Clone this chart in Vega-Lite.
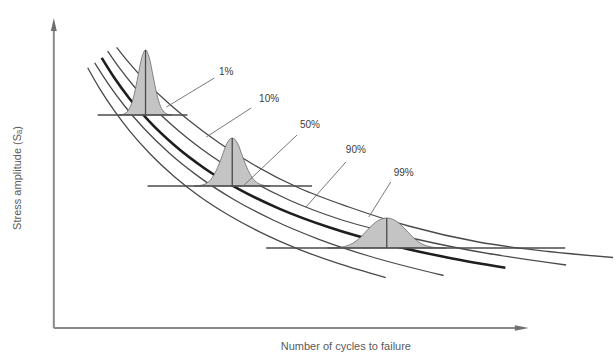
{
  "$schema": "https://vega.github.io/schema/vega-lite/v6.json",
  "width": 616,
  "height": 357,
  "autosize": {"type": "fit", "contains": "padding"},
  "padding": 0,
  "background": "white",
  "config": {"view": {"stroke": null}},
  "datasets": {
    "curves": [
      {"curve": "c1", "x": 88, "y": 67.7}, {"curve": "c1", "x": 100, "y": 88.6}, {"curve": "c1", "x": 115, "y": 111.2}, {"curve": "c1", "x": 130, "y": 130.9}, {"curve": "c1", "x": 150, "y": 153.3}, {"curve": "c1", "x": 175, "y": 176.7}, {"curve": "c1", "x": 200, "y": 196.2}, {"curve": "c1", "x": 230, "y": 215.5}, {"curve": "c1", "x": 260, "y": 231.6}, {"curve": "c1", "x": 300, "y": 249.3}, {"curve": "c1", "x": 340, "y": 263.7}, {"curve": "c1", "x": 387, "y": 277.6},
      {"curve": "c2", "x": 95, "y": 62.9}, {"curve": "c2", "x": 110, "y": 85.9}, {"curve": "c2", "x": 125, "y": 106}, {"curve": "c2", "x": 145, "y": 129}, {"curve": "c2", "x": 170, "y": 153.2}, {"curve": "c2", "x": 200, "y": 177.1}, {"curve": "c2", "x": 235, "y": 199.7}, {"curve": "c2", "x": 275, "y": 220.5}, {"curve": "c2", "x": 320, "y": 239.3}, {"curve": "c2", "x": 370, "y": 256}, {"curve": "c2", "x": 445, "y": 275.5},
      {"curve": "c3", "x": 102, "y": 57.9}, {"curve": "c3", "x": 115, "y": 78.3}, {"curve": "c3", "x": 130, "y": 98.7}, {"curve": "c3", "x": 150, "y": 121.7}, {"curve": "c3", "x": 175, "y": 145.3}, {"curve": "c3", "x": 205, "y": 168.2}, {"curve": "c3", "x": 240, "y": 189.4}, {"curve": "c3", "x": 280, "y": 208.6}, {"curve": "c3", "x": 330, "y": 227.3}, {"curve": "c3", "x": 390, "y": 244.4}, {"curve": "c3", "x": 450, "y": 257.7}, {"curve": "c3", "x": 507, "y": 267.7},
      {"curve": "c4", "x": 108, "y": 51.1}, {"curve": "c4", "x": 120, "y": 68.2}, {"curve": "c4", "x": 135, "y": 87}, {"curve": "c4", "x": 155, "y": 108.7}, {"curve": "c4", "x": 180, "y": 131.4}, {"curve": "c4", "x": 210, "y": 154.5}, {"curve": "c4", "x": 245, "y": 177}, {"curve": "c4", "x": 290, "y": 200}, {"curve": "c4", "x": 340, "y": 219}, {"curve": "c4", "x": 400, "y": 235}, {"curve": "c4", "x": 470, "y": 250}, {"curve": "c4", "x": 568, "y": 265}],
    "curves5": [
      {"curve": "c5", "x": 117, "y": 47.3}, {"curve": "c5", "x": 130, "y": 63.4}, {"curve": "c5", "x": 145, "y": 80.1}, {"curve": "c5", "x": 165, "y": 99.6}, {"curve": "c5", "x": 190, "y": 120.8}, {"curve": "c5", "x": 220, "y": 143}, {"curve": "c5", "x": 255, "y": 165}, {"curve": "c5", "x": 300, "y": 188}, {"curve": "c5", "x": 350, "y": 207}, {"curve": "c5", "x": 410, "y": 226}, {"curve": "c5", "x": 480, "y": 242}, {"curve": "c5", "x": 550, "y": 251.5}, {"curve": "c5", "x": 615, "y": 257.5}
    ],
    "bells": [
      {"bell": "b1", "x": 119.75, "y": 114.9, "base": 115}, {"bell": "b1", "x": 123.5, "y": 114.3, "base": 115}, {"bell": "b1", "x": 127.25, "y": 112.1, "base": 115}, {"bell": "b1", "x": 131, "y": 106.2, "base": 115}, {"bell": "b1", "x": 134.75, "y": 93.9, "base": 115}, {"bell": "b1", "x": 138.5, "y": 75.6, "base": 115}, {"bell": "b1", "x": 142.25, "y": 57.6, "base": 115}, {"bell": "b1", "x": 146, "y": 50, "base": 115}, {"bell": "b1", "x": 149.75, "y": 57.6, "base": 115}, {"bell": "b1", "x": 153.5, "y": 75.6, "base": 115}, {"bell": "b1", "x": 157.25, "y": 93.9, "base": 115}, {"bell": "b1", "x": 161, "y": 106.2, "base": 115}, {"bell": "b1", "x": 164.75, "y": 112.1, "base": 115}, {"bell": "b1", "x": 168.5, "y": 114.3, "base": 115}, {"bell": "b1", "x": 172.25, "y": 114.9, "base": 115},
      {"bell": "b2", "x": 195, "y": 186, "base": 186}, {"bell": "b2", "x": 200.5, "y": 185.5, "base": 186}, {"bell": "b2", "x": 206, "y": 183.9, "base": 186}, {"bell": "b2", "x": 211.5, "y": 179.5, "base": 186}, {"bell": "b2", "x": 217, "y": 170.4, "base": 186}, {"bell": "b2", "x": 222.5, "y": 156.9, "base": 186}, {"bell": "b2", "x": 227.5, "y": 143.6, "base": 186}, {"bell": "b2", "x": 233, "y": 138, "base": 186}, {"bell": "b2", "x": 238.5, "y": 143.6, "base": 186}, {"bell": "b2", "x": 243.5, "y": 156.9, "base": 186}, {"bell": "b2", "x": 249, "y": 170.4, "base": 186}, {"bell": "b2", "x": 254.5, "y": 179.5, "base": 186}, {"bell": "b2", "x": 260, "y": 183.9, "base": 186}, {"bell": "b2", "x": 265.5, "y": 185.5, "base": 186}, {"bell": "b2", "x": 271, "y": 186, "base": 186},
      {"bell": "b3", "x": 328.5, "y": 248, "base": 248}, {"bell": "b3", "x": 337, "y": 247.7, "base": 248}, {"bell": "b3", "x": 345.5, "y": 246.5, "base": 248}, {"bell": "b3", "x": 354, "y": 243.2, "base": 248}, {"bell": "b3", "x": 362.5, "y": 236.5, "base": 248}, {"bell": "b3", "x": 371, "y": 227.5, "base": 248}, {"bell": "b3", "x": 379.5, "y": 220.5, "base": 248}, {"bell": "b3", "x": 388, "y": 218, "base": 248}, {"bell": "b3", "x": 396.5, "y": 220.5, "base": 248}, {"bell": "b3", "x": 405, "y": 227.5, "base": 248}, {"bell": "b3", "x": 413.5, "y": 236.5, "base": 248}, {"bell": "b3", "x": 422, "y": 243.2, "base": 248}, {"bell": "b3", "x": 430.5, "y": 246.5, "base": 248}, {"bell": "b3", "x": 439, "y": 247.7, "base": 248}, {"bell": "b3", "x": 447.5, "y": 248, "base": 248}
    ],
    "segs": [
      {"kind": "base", "x": 98, "y": 115, "x2": 188, "y2": 115},
      {"kind": "base", "x": 148, "y": 186, "x2": 313, "y2": 186},
      {"kind": "base", "x": 267, "y": 248, "x2": 567, "y2": 248},
      {"kind": "center", "x": 146, "y": 115, "x2": 146, "y2": 50},
      {"kind": "center", "x": 233, "y": 186, "x2": 233, "y2": 138},
      {"kind": "center", "x": 388, "y": 248, "x2": 388, "y2": 218},
      {"kind": "leader", "x": 215, "y": 78, "x2": 167, "y2": 107},
      {"kind": "leader", "x": 252, "y": 108, "x2": 207, "y2": 137},
      {"kind": "leader", "x": 298, "y": 135, "x2": 245, "y2": 185},
      {"kind": "leader", "x": 347, "y": 162, "x2": 307, "y2": 207},
      {"kind": "leader", "x": 392, "y": 182, "x2": 370, "y2": 217},
      {"kind": "axis", "x": 54, "y": 328, "x2": 54, "y2": 26},
      {"kind": "axis", "x": 54, "y": 328, "x2": 522, "y2": 328}
    ],
    "labels": [
      {"label": "1%", "x": 227, "y": 72},
      {"label": "10%", "x": 270, "y": 99},
      {"label": "50%", "x": 311, "y": 125},
      {"label": "90%", "x": 357, "y": 150},
      {"label": "99%", "x": 405, "y": 173}
    ],
    "arrows": [
      {"dir": "up", "x": 54, "y": 24.5},
      {"dir": "right", "x": 523.5, "y": 328}
    ],
    "titles": [
      {"axis": "x", "label": "Number of cycles to failure", "x": 347, "y": 347},
      {"axis": "y", "label": "Stress amplitude (Sₐ)", "x": 18, "y": 178}
    ]
  },
  "encoding": {
    "x": {"field": "x", "type": "quantitative", "scale": {"domain": [0, 616], "nice": false, "zero": false}, "axis": null},
    "y": {"field": "y", "type": "quantitative", "scale": {"domain": [0, 357], "nice": false, "zero": false, "reverse": true}, "axis": null}
  },
  "layer": [
    {
      "data": {"name": "curves"},
      "transform": [{"filter": "datum.curve !== 'c3'"}],
      "mark": {"type": "line", "interpolate": "monotone", "color": "#4a4a4a", "strokeWidth": 1.3},
      "encoding": {"detail": {"field": "curve", "type": "nominal"}}
    },
    {
      "data": {"name": "curves5"},
      "mark": {"type": "line", "interpolate": "monotone", "color": "#4a4a4a", "strokeWidth": 1.3},
      "encoding": {"detail": {"field": "curve", "type": "nominal"}}
    },
    {
      "data": {"name": "curves"},
      "transform": [{"filter": "datum.curve === 'c3'"}],
      "mark": {"type": "line", "interpolate": "monotone", "color": "#1e1e1e", "strokeWidth": 2.6},
      "encoding": {"detail": {"field": "curve", "type": "nominal"}}
    },
    {
      "data": {"name": "bells"},
      "mark": {"type": "area", "interpolate": "monotone", "fill": "#c4c4c4", "fillOpacity": 1, "stroke": "#6a6a6a", "strokeWidth": 0.8},
      "encoding": {
        "y2": {"field": "base"},
        "detail": {"field": "bell", "type": "nominal"}
      }
    },
    {
      "data": {"name": "segs"},
      "transform": [{"filter": "datum.kind === 'base' || datum.kind === 'center'"}],
      "mark": {"type": "rule", "color": "#4a4a4a", "strokeWidth": 1.3},
      "encoding": {"x2": {"field": "x2"}, "y2": {"field": "y2"}}
    },
    {
      "data": {"name": "segs"},
      "transform": [{"filter": "datum.kind === 'leader'"}],
      "mark": {"type": "rule", "color": "#6a6a6a", "strokeWidth": 0.9},
      "encoding": {"x2": {"field": "x2"}, "y2": {"field": "y2"}}
    },
    {
      "data": {"name": "segs"},
      "transform": [{"filter": "datum.kind === 'axis'"}],
      "mark": {"type": "rule", "color": "#8a8a8a", "strokeWidth": 2},
      "encoding": {"x2": {"field": "x2"}, "y2": {"field": "y2"}}
    },
    {
      "data": {"name": "arrows"},
      "transform": [{"filter": "datum.dir === 'up'"}],
      "mark": {"type": "point", "shape": "M0,-1L0.45,1L-0.45,1Z", "size": 169, "filled": true, "color": "#6f6f6f", "opacity": 1}
    },
    {
      "data": {"name": "arrows"},
      "transform": [{"filter": "datum.dir === 'right'"}],
      "mark": {"type": "point", "shape": "M1,0L-1,0.4L-1,-0.4Z", "size": 196, "filled": true, "color": "#6f6f6f", "opacity": 1}
    },
    {
      "data": {"name": "labels"},
      "mark": {"type": "text", "font": "Liberation Sans", "fontSize": 10, "color": "#3a3a3a", "align": "center", "baseline": "middle"},
      "encoding": {"text": {"field": "label"}}
    },
    {
      "data": {"name": "titles"},
      "transform": [{"filter": "datum.axis === 'x'"}],
      "mark": {"type": "text", "font": "Liberation Sans", "fontSize": 11, "color": "#5a5a5a", "align": "center", "baseline": "middle"},
      "encoding": {"text": {"field": "label"}}
    },
    {
      "data": {"name": "titles"},
      "transform": [{"filter": "datum.axis === 'y'"}],
      "mark": {"type": "text", "font": "Liberation Sans", "fontSize": 11, "color": "#5a5a5a", "align": "center", "baseline": "middle", "angle": 270},
      "encoding": {"text": {"field": "label"}}
    }
  ]
}
